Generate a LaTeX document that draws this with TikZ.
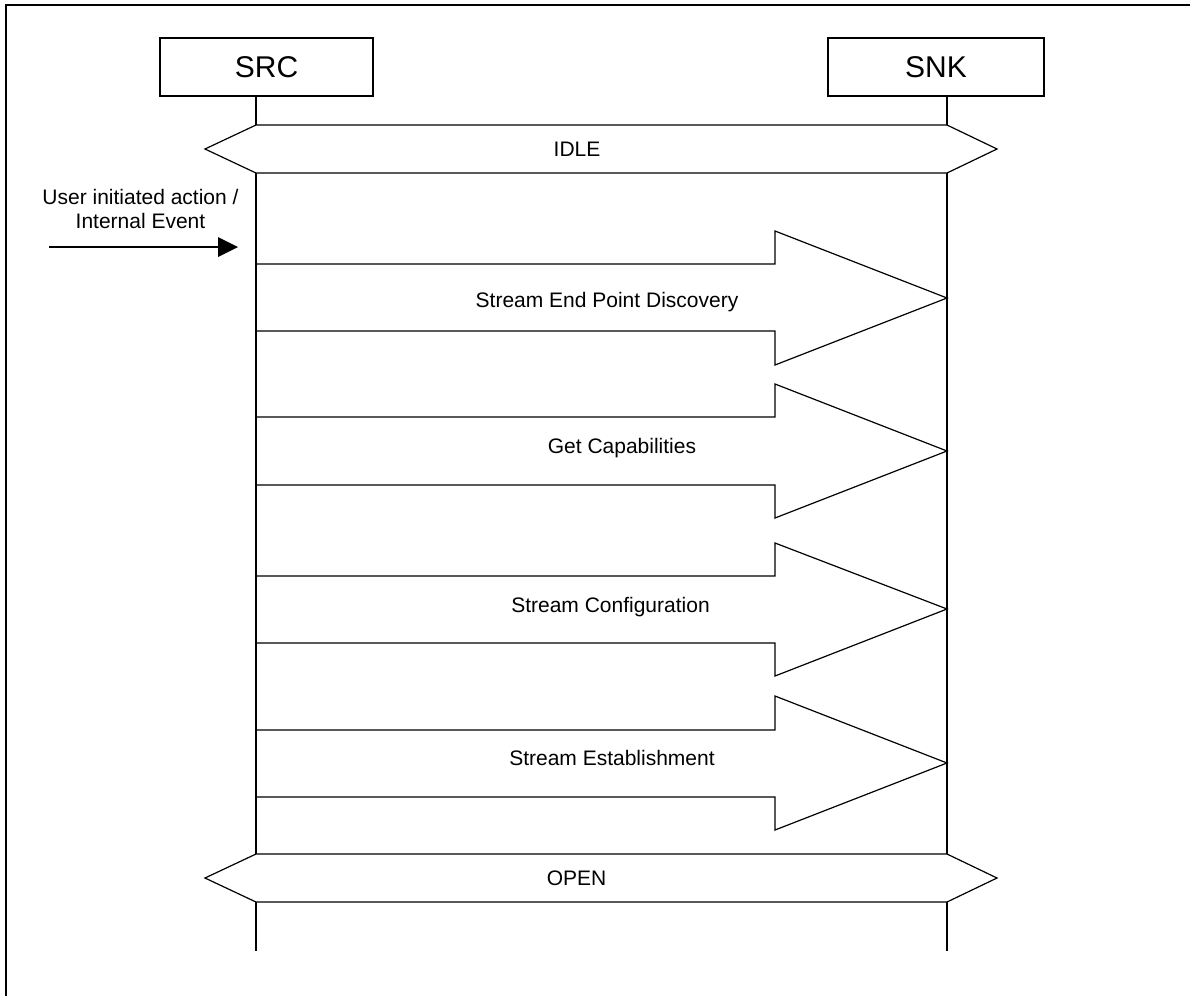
\documentclass[tikz,border=0pt]{standalone}
\usepackage{fontspec}
\setmainfont{Liberation Sans}
\begin{document}
\begin{tikzpicture}[x=1pt,y=-1pt,line width=1.2pt,line join=miter,
  actor/.style={draw,minimum height=58pt,inner sep=0pt,font=\fontsize{30}{36}\selectfont},
  lbl/.style={font=\fontsize{21}{24}\selectfont,inner sep=0pt,align=center},
  blk/.style={draw,fill=white},
  frameline/.style={line width=2pt}]
\useasboundingbox (0,0) rectangle (1190,996);
% frame
\draw[frameline] (6,996) -- (6,5) -- (1190,5);
% actors
\node[actor,minimum width=213pt] (src) at (266.5,67) {SRC};
\node[actor,minimum width=216pt] (snk) at (936,67) {SNK};
% lifeline coordinates
\coordinate (sA) at (256,96);  \coordinate (kA) at (947,96);
\coordinate (sB) at (256,125); \coordinate (kB) at (947,125);
\coordinate (sC) at (256,173); \coordinate (kC) at (947,173);
\coordinate (sD) at (256,854); \coordinate (kD) at (947,854);
\coordinate (sE) at (256,902); \coordinate (kE) at (947,902);
\coordinate (sF) at (256,951); \coordinate (kF) at (947,951);
% arrows (message blocks)
\foreach \ht/\st/\m/\sb/\hb in {231/264/298/331/365,384/417/451/485/518,543/576/609/643/676,696/730/763/797/830}{
  \draw[blk] (256,\st) -- (775,\st) -- (775,\ht) -- (947,\m) -- (775,\hb) -- (775,\sb) -- (256,\sb) -- cycle;
}
% lifelines
\draw (sA) -- (sB); \draw (kA) -- (kB);
\draw (sC) -- (sD); \draw (kC) -- (kD);
\draw (sE) -- (sF); \draw (kE) -- (kF);
% state hexagons
\draw[blk] (sB) -- (kB) -- (997,149) -- (kC) -- (sC) -- (205,149) -- cycle;
\draw[blk] (sD) -- (kD) -- (997,878) -- (kE) -- (sE) -- (205,878) -- cycle;
\node[lbl,anchor=base] (idle) at (577,156) {IDLE};
\node[lbl,anchor=base] (open) at (576.5,885) {OPEN};
% message labels
\node[lbl,anchor=base] (m1) at (607,307) {Stream End Point Discovery};
\node[lbl,anchor=base] (m2) at (622,453) {Get Capabilities};
\node[lbl,anchor=base] (m3) at (610.5,612) {Stream Configuration};
\node[lbl,anchor=base] (m4) at (612,765) {Stream Establishment};
% trigger
\node[lbl,anchor=base] (trig) at (140.5,228) {User initiated action /\\Internal Event};
\coordinate (t0) at (49,247);
\coordinate (t1) at (238,247);
\draw (t0) -- (218,247);
\fill (218,237) -- (t1) -- (218,257) -- cycle;
\end{tikzpicture}
\end{document}
